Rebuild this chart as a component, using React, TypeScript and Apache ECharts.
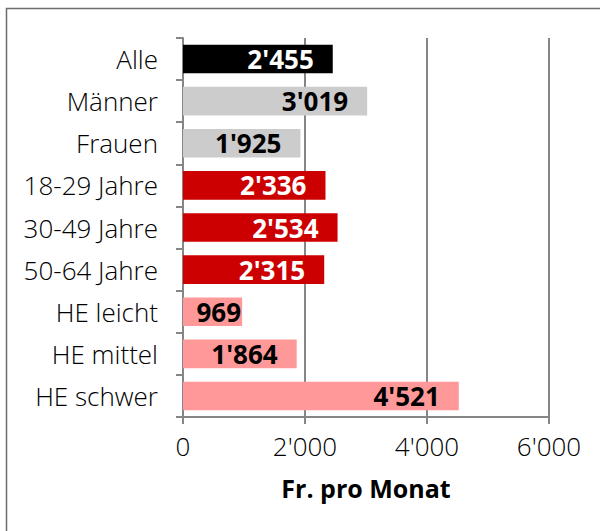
import React, { useEffect, useRef } from "react";
import * as echarts from "echarts";

const categories = [
  "Alle",
  "Männer",
  "Frauen",
  "18-29 Jahre",
  "30-49 Jahre",
  "50-64 Jahre",
  "HE leicht",
  "HE mittel",
  "HE schwer",
];
const values = [2455, 3019, 1925, 2336, 2534, 2315, 969, 1864, 4521];
const barColors = [
  "#000000",
  "#cccccc",
  "#cccccc",
  "#cc0000",
  "#cc0000",
  "#cc0000",
  "#ff9999",
  "#ff9999",
  "#ff9999",
];
const labelColors = [
  "#ffffff",
  "#000000",
  "#000000",
  "#ffffff",
  "#ffffff",
  "#ffffff",
  "#000000",
  "#000000",
  "#000000",
];
const xTicks = { min: 0, max: 6000, interval: 2000 };
const axisName = "Fr. pro Monat";

const fmt = (v: number) => String(v).replace(/\B(?=(\d{3})+(?!\d))/g, "'");

const FONT = "'Open Sans', sans-serif";

export default function App() {
  const ref = useRef<HTMLDivElement>(null);
  useEffect(() => {
    if (!ref.current) return;
    const chart = echarts.init(ref.current, undefined, { renderer: "svg" });
    const data = values.map((v, i) => ({
      value: v,
      itemStyle: { color: barColors[i] },
      label: {
        color: labelColors[i],
        distance: v < 1500 ? 1 : 19,
      },
    }));
    chart.setOption({
      animation: false,
      backgroundColor: "#ffffff",
      textStyle: { fontFamily: FONT },
      graphic: [
        {
          type: "rect",
          shape: { x: 6.5, y: 8.5, width: 800, height: 800 },
          style: { fill: "none", stroke: "#6b6b6b", lineWidth: 1.5 },
          silent: true,
        },
      ],
      grid: { left: 183, right: 51, top: 38, bottom: 114, containLabel: false },
      xAxis: {
        type: "value",
        min: xTicks.min,
        max: xTicks.max,
        interval: xTicks.interval,
        name: axisName,
        nameLocation: "middle",
        nameGap: 58,
        nameTextStyle: {
          fontFamily: FONT,
          fontSize: 25,
          fontWeight: "bold",
          color: "#000000",
        },
        axisLine: { show: true, lineStyle: { color: "#868686", width: 2 } },
        axisTick: { show: true, length: 7, lineStyle: { color: "#868686", width: 2 } },
        splitLine: { show: true, lineStyle: { color: "#868686", width: 2 } },
        axisLabel: {
          fontFamily: FONT,
          fontSize: 26,
          fontWeight: 300,
          color: "#000000",
          margin: 16,
          formatter: (v: number) => fmt(v),
        },
      },
      yAxis: {
        type: "category",
        data: categories,
        inverse: true,
        axisLine: { show: true, lineStyle: { color: "#868686", width: 2 } },
        axisTick: { show: true, length: 7, lineStyle: { color: "#868686", width: 2 } },
        axisLabel: {
          fontFamily: FONT,
          fontSize: 26,
          fontWeight: 300,
          color: "#000000",
          margin: 25,
        },
      },
      series: [
        {
          type: "bar",
          data,
          barWidth: "68%",
          label: {
            show: true,
            position: "insideRight",
            fontFamily: FONT,
            fontSize: 26,
            fontWeight: "bold",
            formatter: (p: any) => fmt(p.value),
          },
        },
      ],
    });
    return () => chart.dispose();
  }, []);
  return (
    <div
      ref={ref}
      style={{ position: "fixed", left: 0, top: 0, width: 600, height: 531 }}
    />
  );
}
